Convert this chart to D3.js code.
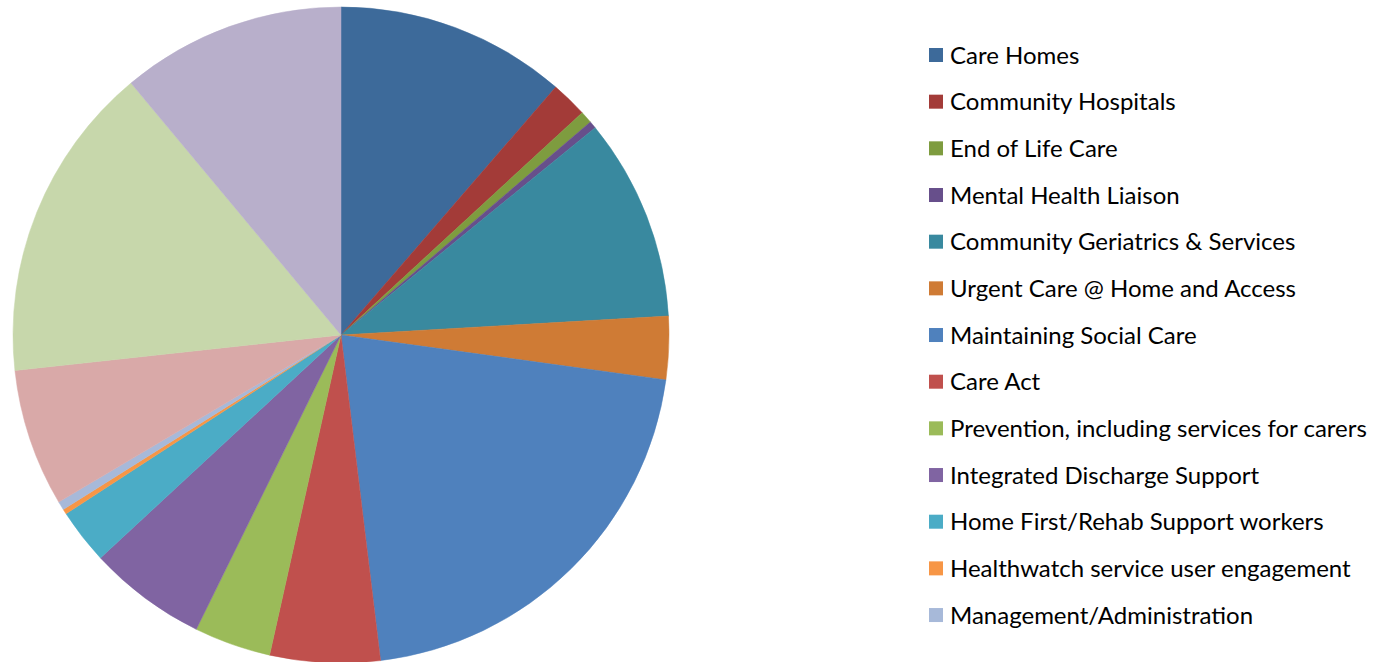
<!DOCTYPE html>
<html>
<head>
<meta charset="utf-8">
<script src="https://cdn.jsdelivr.net/npm/d3@7"></script>
<style>
  html, body { margin: 0; padding: 0; background: #ffffff; }
  svg { display: block; }
</style>
</head>
<body>
<svg id="chart" width="1378" height="662"></svg>
<script>
// Budget allocation by scheme (percent of total)
const categories = [
  "Care Homes",
  "Community Hospitals",
  "End of Life Care",
  "Mental Health Liaison",
  "Community Geriatrics & Services",
  "Urgent Care @ Home and Access",
  "Maintaining Social Care",
  "Care Act",
  "Prevention, including services for carers",
  "Integrated Discharge Support",
  "Home First/Rehab Support workers",
  "Healthwatch service user engagement",
  "Management/Administration",
  "Scheme 14",
  "Scheme 15",
  "Scheme 16"
];
const values = [
  11.36, 1.79, 0.60, 0.36, 9.97, 3.11, 20.89, 5.42,
  3.78, 5.83, 2.72, 0.25, 0.42, 6.78, 15.67, 11.06
];
const colors = [
  "#3d6a9a", "#a33b38", "#7e9c3f", "#674f8b", "#39899f", "#cf7b35",
  "#4f81bd", "#c0504d", "#9bbb59", "#8064a2", "#4bacc6", "#f79646",
  "#a7b9d9", "#d9a9a8", "#c7d7ab", "#b8afcb"
];
// Only the first entries fit in the legend box
const legendCount = 13;

const svg = d3.select("#chart");
const cx = 341, cy = 335, radius = 328;

const pie = d3.pie().sort(null).value(d => d.value);
const arc = d3.arc().innerRadius(0).outerRadius(radius);
const data = categories.map((c, i) => ({ name: c, value: values[i], color: colors[i] }));

const color = d3.scaleOrdinal().domain(categories).range(colors);

svg.append("g")
  .attr("transform", `translate(${cx},${cy})`)
  .selectAll("path")
  .data(pie(data))
  .join("path")
  .attr("d", arc)
  .attr("fill", d => color(d.data.name))
  .attr("stroke", d => color(d.data.name))
  .attr("stroke-width", 0.5);

// Legend
const legendX = 929, legendY = 55, rowGap = 46.67, sw = 14, textX = 950;
const legend = svg.append("g");
const rows = legend.selectAll("g")
  .data(data.slice(0, legendCount))
  .join("g")
  .attr("transform", (d, i) => `translate(0,${legendY + i * rowGap})`);

rows.append("rect")
  .attr("x", legendX)
  .attr("y", -sw / 2)
  .attr("width", sw)
  .attr("height", sw)
  .attr("fill", d => d.color);

const labels = rows.append("text")
  .attr("x", textX)
  .attr("y", 7)
  .attr("font-family", "Lato, 'Open Sans', sans-serif")
  .attr("font-size", 20)
  .attr("fill", "#000")
  .text(d => d.name);

// Size the legend font so the longest label spans the available width
let maxW = 0;
labels.each(function () { maxW = Math.max(maxW, this.getComputedTextLength()); });
const fs = 20 * 417 / maxW;
labels.attr("font-size", fs.toFixed(2)).attr("y", fs * 0.36);
</script>
</body>
</html>
